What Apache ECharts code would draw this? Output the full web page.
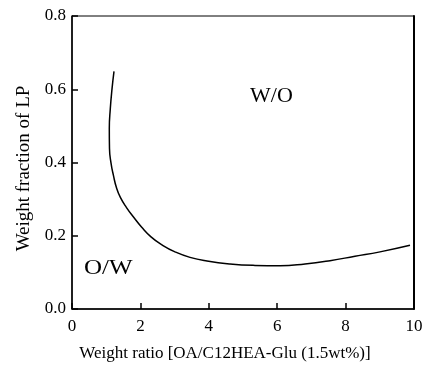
<!DOCTYPE html>
<html>
<head>
<meta charset="utf-8">
<script src="https://cdn.jsdelivr.net/npm/echarts@6/dist/echarts.min.js"></script>
<style>html,body{margin:0;padding:0;background:#fff}#c{width:427px;height:367px}</style>
</head>
<body>
<div id="c"></div>
<script>
var weightRatio = [1.228, 1.170, 1.120, 1.091, 1.096, 1.140, 1.213, 1.301, 1.418, 1.594, 1.798, 2.032, 2.310, 2.632, 3.012, 3.450, 3.947, 4.620, 5.351, 6.082, 6.813, 7.544, 8.275, 9.006, 9.883];
var fractionLP  = [0.649, 0.601, 0.547, 0.493, 0.439, 0.399, 0.364, 0.331, 0.304, 0.277, 0.251, 0.224, 0.197, 0.175, 0.156, 0.141, 0.131, 0.123, 0.119, 0.118, 0.123, 0.132, 0.144, 0.156, 0.174];
var xTicks = [0, 2, 4, 6, 8, 10];
var yTicks = ['0.0', '0.2', '0.4', '0.6', '0.8'];
var regionLabels = ['W/O', 'O/W'];

var font = 'Liberation Serif';
var chart = echarts.init(document.getElementById('c'));
var pts = weightRatio.map(function (x, i) { return [x, fractionLP[i]]; });

chart.setOption({
  animation: false,
  backgroundColor: '#fff',
  grid: { left: 72, right: 13, top: 16, bottom: 54, show: true, borderColor: '#000', borderWidth: 1 },
  xAxis: [{
    type: 'value', min: 0, max: 10, interval: 2,
    name: 'Weight ratio [OA/C12HEA-Glu (1.5wt%)]',
    nameLocation: 'middle', nameGap: 36,
    nameTextStyle: { fontFamily: font, fontSize: 17, color: '#000', padding: [0, 36, 0, 0] },
    axisLine: { lineStyle: { color: '#000', width: 1.5 } },
    axisTick: { inside: true, length: 6, lineStyle: { color: '#000', width: 1.5 } },
    axisLabel: { fontFamily: font, fontSize: 17, color: '#000', margin: 9,
      formatter: function (v) { return xTicks.indexOf(v) >= 0 ? String(v) : ''; } },
    splitLine: { show: false }
  }],
  yAxis: [{
    type: 'value', min: 0, max: 0.8, interval: 0.2,
    name: 'Weight fraction of LP',
    nameLocation: 'middle', nameGap: 36,
    nameTextStyle: { fontFamily: font, fontSize: 19, color: '#000', padding: [0, 12, 0, 0] },
    axisLine: { lineStyle: { color: '#000', width: 1.5 } },
    axisTick: { inside: true, length: 6, lineStyle: { color: '#000', width: 1.5 } },
    axisLabel: { fontFamily: font, fontSize: 17, color: '#000', margin: 6,
      formatter: function (v) { return yTicks[Math.round(v / 0.2)]; } },
    splitLine: { show: false }
  }, {
    type: 'value', min: 0, max: 0.8, position: 'right',
    axisLine: { show: true, lineStyle: { color: '#000', width: 2 } },
    axisTick: { show: false }, axisLabel: { show: false }, splitLine: { show: false }
  }],
  series: [{
    type: 'line', data: pts, smooth: 0.5, showSymbol: false,
    lineStyle: { color: '#000', width: 1.5 }
  }],
  graphic: [
    { type: 'text', x: 250, y: 87, scaleX: 1.1, style: { text: regionLabels[0], font: '20px "Liberation Serif"', fill: '#000' } },
    { type: 'text', x: 84, y: 259, scaleX: 1.25, style: { text: regionLabels[1], font: '20px "Liberation Serif"', fill: '#000' } }
  ]
});
</script>
</body>
</html>
